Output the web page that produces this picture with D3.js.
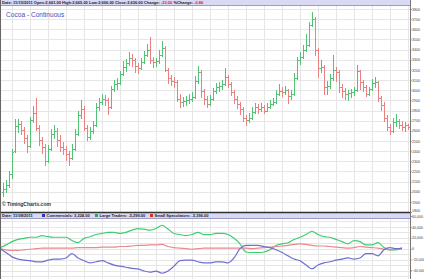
<!DOCTYPE html>
<html>
<head>
<meta charset="utf-8">
<script src="https://cdn.jsdelivr.net/npm/d3@7"></script>
<style>
  body { margin: 0; background: #fff; }
  svg { display: block; font-family: "Liberation Sans", Arial, sans-serif; }
</style>
</head>
<body>
<div id="chart"></div>
<script>
// weekly OHLC, cocoa continuous
const opens = [
  2000,2030,2065,2175,2400,2650,2670,2610,2530,2450,2710,2780,2630,2510,2440,2300,2420,2570,2600,2510,
  2440,2420,2370,2330,2420,2570,2760,2810,2630,2540,2600,2660,2830,2880,2910,2900,2830,3010,3060,3070,
  3160,3230,3270,3320,3300,3240,3220,3280,3350,3400,3300,3280,3290,3350,3420,3200,3120,3090,3080,2910,
  2880,2890,2900,2910,2930,3090,3180,2990,2910,2860,2910,2990,3030,3040,3060,3130,3060,2980,2910,2860,
  2810,2730,2710,2730,2790,2830,2810,2830,2800,2830,2860,2880,2960,2990,2980,3000,2940,2960,3120,3300,
  3330,3400,3450,3640,3700,3400,3220,3230,3030,3040,3120,3200,3180,3030,2990,2960,2970,2980,3000,3190,
  3080,3030,2960,3010,3070,3080,2920,2850,2730,2640,2600,2690,2700,2660,2640,2661
];
const highs = [
  2090,2120,2200,2420,2720,2720,2700,2640,2560,2740,2840,2920,2660,2540,2470,2460,2620,2660,2630,2560,
  2490,2450,2400,2470,2620,2800,2900,2840,2660,2640,2700,2870,2920,2960,2950,2920,3040,3100,3120,3190,
  3290,3310,3380,3360,3320,3270,3320,3390,3460,3520,3330,3320,3400,3480,3440,3220,3150,3130,3100,2960,
  2930,2940,2960,2980,3140,3240,3200,3010,2940,2950,3020,3070,3080,3100,3220,3150,3080,3000,2940,2880,
  2830,2760,2780,2830,2870,2860,2870,2850,2870,2900,2920,3000,3060,3030,3040,3010,3000,3170,3330,3380,
  3450,3550,3670,3775,3720,3420,3300,3250,3090,3160,3350,3230,3200,3060,3020,3000,3010,3030,3250,3200,
  3100,3050,3030,3110,3130,3090,2940,2880,2760,2670,2730,2770,2720,2700,2690,2665
];
const lows = [
  1950,1990,2040,2130,2380,2580,2560,2470,2380,2430,2680,2600,2450,2370,2250,2280,2400,2520,2440,2390,
  2360,2300,2250,2310,2400,2550,2720,2600,2500,2510,2570,2640,2800,2850,2840,2760,2810,2980,3000,3050,
  3140,3180,3240,3230,3170,3160,3200,3260,3330,3260,3220,3230,3260,3330,3180,3060,3040,3020,2880,2820,
  2830,2840,2860,2880,2910,3060,2920,2850,2820,2840,2890,2960,2980,3000,3040,3020,2940,2860,2810,2760,
  2690,2650,2680,2710,2770,2770,2790,2770,2790,2810,2840,2860,2940,2930,2950,2860,2900,2940,3100,3250,
  3310,3380,3430,3620,3340,3120,3170,2950,2950,3010,3090,3080,2970,2920,2900,2890,2920,2940,2980,3000,
  2980,2930,2940,2990,3020,2880,2800,2690,2600,2560,2580,2640,2620,2600,2590,2606
];
const closes = [
  2030,2065,2175,2390,2650,2670,2610,2530,2450,2710,2780,2630,2510,2440,2300,2420,2570,2600,2510,2440,
  2420,2370,2330,2420,2570,2760,2810,2630,2540,2600,2660,2830,2880,2910,2900,2830,3010,3060,3070,3160,
  3230,3270,3320,3300,3240,3220,3280,3350,3400,3300,3280,3290,3350,3420,3200,3120,3090,3080,2910,2880,
  2890,2900,2910,2930,3090,3180,2990,2910,2860,2910,2990,3030,3040,3060,3130,3060,2980,2910,2860,2810,
  2730,2710,2730,2790,2830,2810,2830,2800,2830,2860,2880,2960,2990,2980,3000,2940,2960,3120,3300,3330,
  3400,3450,3640,3700,3400,3220,3230,3030,3040,3120,3200,3180,3030,2990,2960,2970,2980,3000,3190,3080,
  3030,2960,3010,3070,3080,2920,2850,2730,2640,2600,2690,2700,2660,2640,2659,2636
];
const priceTicks = d3.range(1800, 3801, 100);

// net positions (contracts), change since start of chart
const commercials = [
  0,-7000,-15000,-19000,-21000,-22000,-24000,-24000,-21000,-19000,-19000,-17000,-9000,-17000,-22000,-26000,-24000,
  -22000,-26000,-30000,-32000,-34000,-36000,-37000,-41000,-43000,-41000,-45000,-41000,-32000,-22000,-21000,-21000,
  -24000,-26000,-26000,-24000,-24000,-26000,-17000,0,6000,6000,6000,4000,2000,-2000,-7000,-13000,-19000,-22000,
  -30000,-37000,-30000,-26000,-24000,-21000,-19000,-17000,-19000,-17000,-9000,-9000,-13000,-2000,2000,0,0
];
const largeTraders = [
  2000,7000,13000,17000,19000,21000,21000,24000,22000,21000,21000,21000,15000,11000,19000,22000,26000,
  28000,30000,30000,28000,30000,34000,37000,36000,34000,37000,43000,36000,28000,26000,24000,26000,
  30000,26000,26000,28000,28000,26000,19000,9000,-6000,-7000,-7000,-6000,-2000,6000,9000,11000,17000,21000,
  26000,32000,26000,22000,21000,17000,13000,9000,15000,13000,7000,7000,11000,2000,-2000,-2000,2000
];
const smallSpecs = [
  0,-2000,-3000,-3000,-2000,-1000,0,1000,1000,1000,1000,1000,1000,2000,2000,2000,2000,
  3000,3000,3000,4000,4000,5000,6000,6000,7000,7000,8000,4000,2000,1000,0,-1000,
  0,1000,1000,1000,1000,1000,1000,1000,1000,0,1000,2000,3000,4000,5000,6000,8000,9000,
  8000,6000,5000,5000,4000,3000,2000,1000,2000,4000,3000,2000,1000,-1000,-2000,-1000,0
];
const cotTicks = [-40000, -20000, 0, 20000, 40000, 60000];

const width = 424, height = 279;
const axisX = 410;
const upColor = "#52c274", downColor = "#e98181";

const svg = d3.select("#chart").append("svg")
  .attr("width", width)
  .attr("height", height);

// scales
const x = d3.scaleLinear().domain([0, closes.length - 1]).range([3, 408]);
const y = d3.scaleLinear().domain([1800, 3800]).range([212, 9]);
const xc = d3.scaleLinear().domain([0, commercials.length - 1]).range([0, 402]);
const yc = d3.scaleLinear().domain([-40000, 60000]).range([270.5, 216]);

// grid - price panel
const grid = svg.append("g").attr("stroke", "#e6e6e6").attr("stroke-width", 1).attr("shape-rendering", "crispEdges");
grid.selectAll(".hp").data(priceTicks).join("line")
  .attr("x1", 0).attr("x2", axisX)
  .attr("y1", d => Math.round(y(d)) + 0.5).attr("y2", d => Math.round(y(d)) + 0.5);
const vIdx = d3.range(3, closes.length, 6);
grid.selectAll(".vp").data(vIdx).join("line")
  .attr("x1", d => Math.round(x(d)) + 0.5).attr("x2", d => Math.round(x(d)) + 0.5)
  .attr("y1", 6).attr("y2", 212);

// grid - cot panel
grid.selectAll(".hc").data(d3.range(-50000, 60001, 10000)).join("line")
  .attr("x1", 0).attr("x2", axisX)
  .attr("y1", d => Math.round(yc(d)) + 0.5).attr("y2", d => Math.round(yc(d)) + 0.5)
  .attr("display", d => yc(d) < 219 ? "none" : null);
grid.selectAll(".vc").data(vIdx).join("line")
  .attr("x1", d => Math.round(x(d)) + 0.5).attr("x2", d => Math.round(x(d)) + 0.5)
  .attr("y1", 219).attr("y2", height);

// OHLC bars
const bars = svg.append("g").attr("shape-rendering", "crispEdges").attr("stroke-width", 1);
const barData = closes.map((c, i) => ({ i, o: opens[i], h: highs[i], l: lows[i], c }));
const bar = bars.selectAll("g").data(barData).join("g")
  .attr("stroke", d => d.c >= d.o ? upColor : downColor);
bar.append("line")
  .attr("x1", d => Math.round(x(d.i)) + 0.5).attr("x2", d => Math.round(x(d.i)) + 0.5)
  .attr("y1", d => y(d.h)).attr("y2", d => y(d.l));
bar.append("line")
  .attr("x1", d => Math.round(x(d.i)) - 1).attr("x2", d => Math.round(x(d.i)))
  .attr("y1", d => Math.round(y(d.o)) + 0.5).attr("y2", d => Math.round(y(d.o)) + 0.5);
bar.append("line")
  .attr("x1", d => Math.round(x(d.i)) + 1).attr("x2", d => Math.round(x(d.i)) + 2)
  .attr("y1", d => Math.round(y(d.c)) + 0.5).attr("y2", d => Math.round(y(d.c)) + 0.5);

// COT lines
const cotSeries = [
  { values: largeTraders, color: "#3ccf72" },
  { values: smallSpecs, color: "#ea8a8a" },
  { values: commercials, color: "#6f6fd0" }
];
const line = d3.line().x((d, i) => xc(i)).y(d => yc(d)).curve(d3.curveMonotoneX);
svg.append("g").selectAll("path").data(cotSeries).join("path")
  .attr("d", d => line(d.values))
  .attr("fill", "none")
  .attr("stroke", d => d.color)
  .attr("stroke-width", 1.2);

// top info bar
svg.append("rect").attr("x", 0).attr("y", 0).attr("width", axisX).attr("height", 5.5)
  .attr("fill", "#d9d9f3");
svg.append("line").attr("x1", 0).attr("x2", axisX).attr("y1", 5.5).attr("y2", 5.5)
  .attr("stroke", "#9c9cc8").attr("stroke-width", 1);
const info = svg.append("text").attr("x", 2).attr("y", 4.3)
  .style("font-size", "4px").style("font-weight", "bold").attr("fill", "#222");
info.append("tspan").text("Date: 11/15/2011  Open:2,661.00  High:2,665.00  Low:2,606.00  Close:2,636.00  Change: ");
info.append("tspan").attr("fill", "#e02020").text("-23.00");
info.append("tspan").text("  %Change: ");
info.append("tspan").attr("fill", "#e02020").text("-0.86");

// title
svg.append("text").attr("x", 6).attr("y", 17)
  .style("font-size", "6.6px").attr("fill", "#4a4ab8")
  .text("Cocoa - Continuous");

// watermark
svg.append("text").attr("x", 2).attr("y", 206)
  .style("font-size", "5px").style("font-weight", "bold").attr("fill", "#333")
  .text("\u00a9 TimingCharts.com");

// lower info bar
svg.append("rect").attr("x", 0).attr("y", 212.5).attr("width", axisX).attr("height", 6)
  .attr("fill", "#d9d9f3");
svg.append("line").attr("x1", 0).attr("x2", axisX).attr("y1", 212.5).attr("y2", 212.5)
  .attr("stroke", "#333").attr("stroke-width", 1.5);
svg.append("line").attr("x1", 0).attr("x2", axisX).attr("y1", 218.5).attr("y2", 218.5)
  .attr("stroke", "#9c9cc8").attr("stroke-width", 1);
const legendItems = [
  { label: "Commercials: 3,224.00", color: "#3333aa", x: 42 },
  { label: "Large Traders: -5,299.00", color: "#22aa55", x: 95 },
  { label: "Small Speculators: -5,396.00", color: "#cc3333", x: 150 }
];
svg.append("text").attr("x", 2).attr("y", 217.2)
  .style("font-size", "4px").style("font-weight", "bold").attr("fill", "#222")
  .text("Date: 11/08/2011");
const leg = svg.append("g").selectAll("g").data(legendItems).join("g")
  .attr("transform", d => `translate(${d.x},214)`);
leg.append("rect").attr("width", 3).attr("height", 3).attr("fill", d => d.color);
leg.append("text").attr("x", 4.5).attr("y", 3.2)
  .style("font-size", "4px").style("font-weight", "bold").attr("fill", "#222")
  .text(d => d.label);

// right axes
const priceAxis = svg.append("g").attr("transform", `translate(${axisX},0)`)
  .call(d3.axisRight(y).tickValues(priceTicks).tickSize(1.5).tickFormat(d3.format("d")));
const cotAxis = svg.append("g").attr("transform", `translate(${axisX},0)`)
  .call(d3.axisRight(yc).tickValues(cotTicks).tickSize(1.5).tickFormat(d3.format(",")));
[priceAxis, cotAxis].forEach(a => {
  a.select(".domain").attr("stroke", "#777");
  a.selectAll(".tick line").attr("stroke", "#777");
  a.selectAll(".tick text").attr("x", 2).style("font-size", "3.6px").attr("fill", "#444")
    .style("font-family", "'Liberation Sans', Arial, sans-serif");
});
priceAxis.selectAll(".tick text").filter(d => d === 1800).attr("dy", "-0.05em");
svg.append("line").attr("x1", axisX + 0.5).attr("x2", axisX + 0.5).attr("y1", 0).attr("y2", height)
  .attr("stroke", "#777").attr("stroke-width", 1);
// left border
svg.append("line").attr("x1", 0.5).attr("x2", 0.5).attr("y1", 0).attr("y2", height)
  .attr("stroke", "#666").attr("stroke-width", 1);
</script>
</body>
</html>
